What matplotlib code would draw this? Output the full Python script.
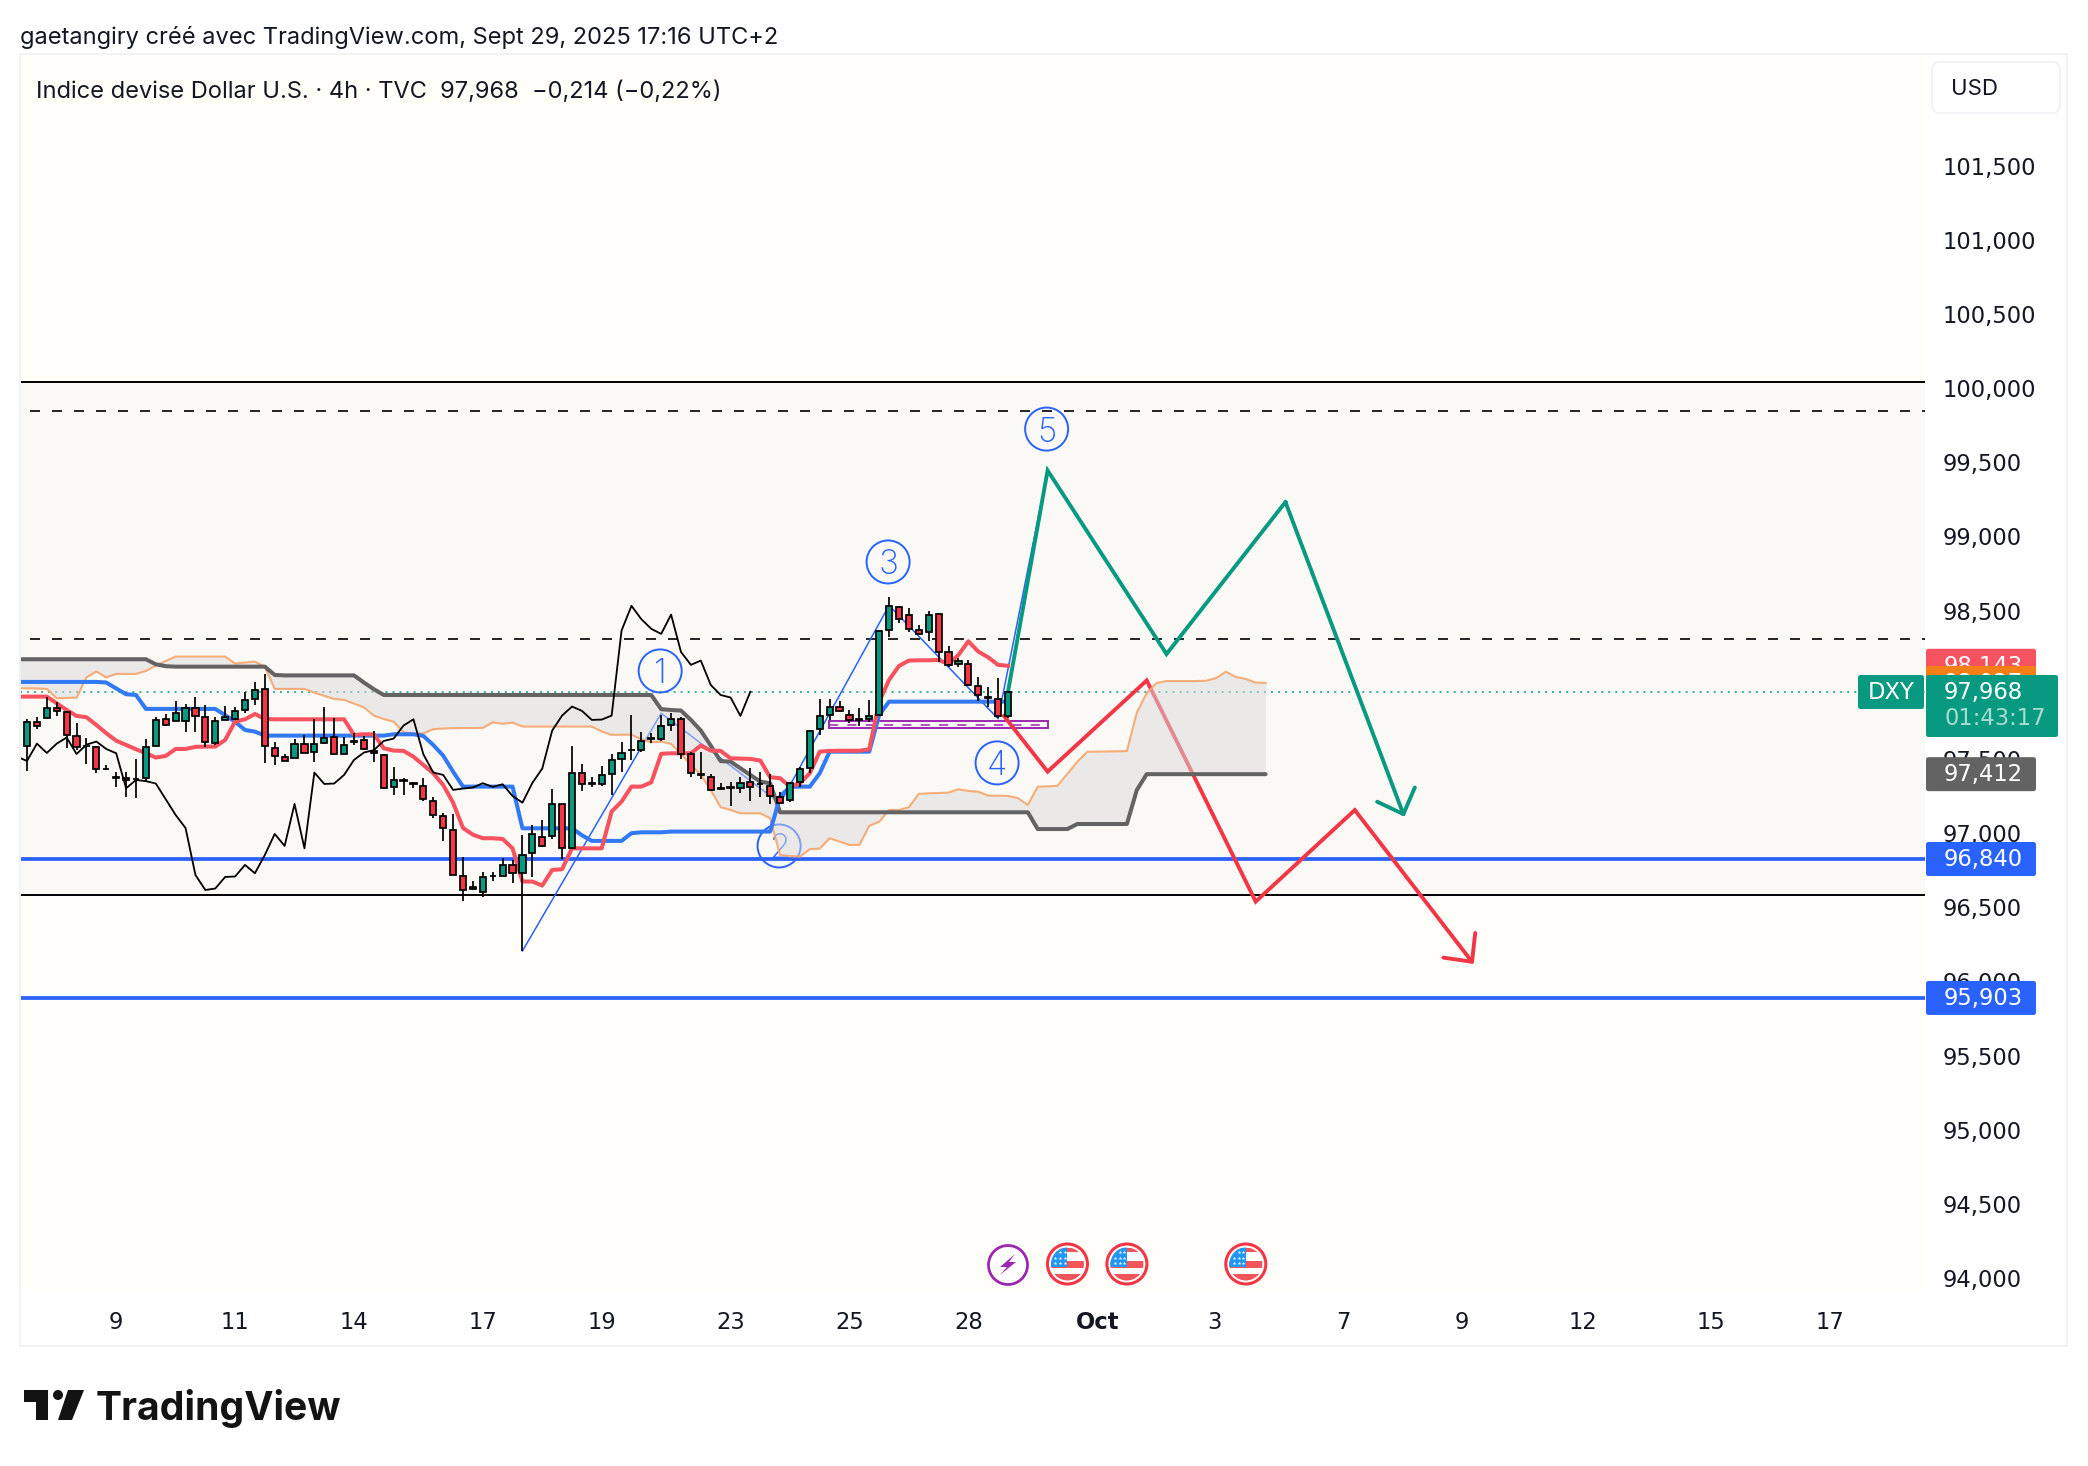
import numpy as np
import matplotlib
matplotlib.use("Agg")
import matplotlib.pyplot as plt
from matplotlib.patches import Circle, Rectangle, Polygon, FancyBboxPatch
from matplotlib.transforms import ScaledTranslation

plt.rcParams['font.family'] = ['Inter', 'DejaVu Sans']

# candles, 4h bars: open, high, low, close
opens = [97.602, 97.762, 97.791, 97.861, 97.834, 97.672, 97.605, 97.598, 97.450, 97.391,
         97.385, 97.382, 97.384, 97.602, 97.784, 97.769, 97.769, 97.861, 97.800, 97.625,
         97.778, 97.782, 97.845, 97.919, 97.987, 97.591, 97.530, 97.524, 97.616, 97.560,
         97.620, 97.665, 97.548, 97.636, 97.643, 97.569, 97.544, 97.328, 97.375, 97.353,
         97.333, 97.231, 97.130, 97.036, 96.726, 96.650, 96.616, 96.726, 96.726, 96.800,
         96.744, 96.879, 96.991, 96.996, 97.211, 96.912, 97.423, 97.354, 97.346, 97.414,
         97.513, 97.578, 97.574, 97.656, 97.647, 97.746, 97.787, 97.546, 97.412, 97.396,
         97.319, 97.326, 97.317, 97.357, 97.348, 97.335, 97.261, 97.236, 97.360, 97.452,
         97.717, 97.812, 97.868, 97.814, 97.784, 97.782, 97.812, 98.385, 98.542, 98.488,
         98.385, 98.369, 98.495, 98.239, 98.155, 98.155, 98.007, 97.933, 97.922, 97.802]
highs = [97.782, 97.796, 97.935, 97.897, 97.841, 97.755, 97.654, 97.602, 97.474, 97.425,
         97.425, 97.512, 97.647, 97.800, 97.818, 97.904, 97.883, 97.931, 97.877, 97.800,
         97.872, 97.863, 97.967, 98.032, 98.088, 97.627, 97.548, 97.647, 97.677, 97.782,
         97.863, 97.789, 97.661, 97.688, 97.670, 97.704, 97.548, 97.459, 97.384, 97.357,
         97.384, 97.256, 97.148, 97.142, 96.852, 96.694, 96.750, 96.755, 96.845, 96.834,
         97.002, 97.070, 97.103, 97.310, 97.211, 97.602, 97.479, 97.396, 97.468, 97.549,
         97.627, 97.812, 97.695, 97.688, 97.812, 97.823, 97.796, 97.564, 97.562, 97.411,
         97.351, 97.362, 97.396, 97.452, 97.425, 97.414, 97.292, 97.362, 97.463, 97.711,
         97.917, 97.917, 97.904, 97.845, 97.857, 97.913, 98.385, 98.605, 98.547, 98.531,
         98.419, 98.511, 98.497, 98.277, 98.194, 98.182, 98.066, 97.998, 98.059, 97.968]
lows = [97.436, 97.715, 97.791, 97.807, 97.587, 97.575, 97.479, 97.423, 97.441, 97.328,
        97.261, 97.254, 97.362, 97.602, 97.737, 97.769, 97.699, 97.699, 97.598, 97.609,
        97.778, 97.778, 97.823, 97.879, 97.490, 97.476, 97.499, 97.524, 97.553, 97.497,
        97.614, 97.548, 97.548, 97.611, 97.575, 97.497, 97.310, 97.272, 97.272, 97.321,
        97.234, 97.115, 96.964, 96.732, 96.559, 96.631, 96.586, 96.694, 96.726, 96.676,
        96.220, 96.721, 96.924, 96.973, 96.843, 96.912, 97.301, 97.328, 97.333, 97.272,
        97.429, 97.508, 97.564, 97.625, 97.638, 97.706, 97.513, 97.396, 97.382, 97.301,
        97.310, 97.200, 97.288, 97.234, 97.261, 97.209, 97.216, 97.227, 97.328, 97.418,
        97.677, 97.778, 97.832, 97.755, 97.740, 97.767, 97.812, 98.340, 98.434, 98.374,
        98.351, 98.313, 98.171, 98.138, 98.138, 98.007, 97.908, 97.868, 97.789, 97.789]
closes = [97.766, 97.740, 97.861, 97.841, 97.677, 97.593, 97.600, 97.445, 97.447, 97.388,
          97.372, 97.378, 97.598, 97.778, 97.744, 97.827, 97.861, 97.805, 97.627, 97.773,
          97.800, 97.841, 97.915, 97.980, 97.602, 97.535, 97.501, 97.618, 97.555, 97.618,
          97.659, 97.548, 97.611, 97.632, 97.582, 97.553, 97.317, 97.373, 97.365, 97.349,
          97.243, 97.137, 97.049, 96.732, 96.631, 96.641, 96.719, 96.722, 96.800, 96.744,
          96.867, 97.009, 96.928, 97.211, 96.912, 97.423, 97.346, 97.349, 97.407, 97.508,
          97.558, 97.574, 97.636, 97.652, 97.740, 97.782, 97.546, 97.423, 97.407, 97.306,
          97.315, 97.322, 97.351, 97.326, 97.344, 97.265, 97.220, 97.353, 97.450, 97.706,
          97.807, 97.868, 97.839, 97.778, 97.780, 97.807, 98.380, 98.547, 98.457, 98.392,
          98.358, 98.488, 98.236, 98.149, 98.178, 98.014, 97.946, 97.929, 97.805, 97.968]
close_before = 97.530

# ichimoku, first value sits one bar left of the first candle
tenkan = [97.935, 97.935, 97.935, 97.935, 97.890, 97.845, 97.805, 97.796, 97.744, 97.688,
          97.638, 97.609, 97.580, 97.553, 97.524, 97.535, 97.582, 97.582, 97.596, 97.598,
          97.598, 97.643, 97.766, 97.782, 97.818, 97.784, 97.782, 97.782, 97.782, 97.782,
          97.782, 97.782, 97.782, 97.782, 97.677, 97.681, 97.681, 97.587, 97.571, 97.569,
          97.530, 97.474, 97.418, 97.339, 97.220, 97.049, 97.004, 96.980, 96.980, 96.975,
          96.912, 96.688, 96.688, 96.661, 96.766, 96.771, 96.912, 96.912, 96.912, 96.912,
          97.160, 97.227, 97.328, 97.328, 97.357, 97.549, 97.553, 97.553, 97.553, 97.605,
          97.571, 97.569, 97.519, 97.517, 97.515, 97.504, 97.391, 97.385, 97.328, 97.351,
          97.418, 97.564, 97.569, 97.570, 97.570, 97.570, 97.580, 97.901, 98.048, 98.142,
          98.178, 98.180, 98.180, 98.182, 98.155, 98.216, 98.308, 98.239, 98.200, 98.149,
          98.143]
kijun = ([98.034] * 9 + [98.030, 97.990, 97.951, 97.946] + [97.852] * 8 + [97.810, 97.766, 97.710, 97.699]
         + [97.672] * 13 + [97.681] * 3 + [97.670, 97.609, 97.537, 97.429] + [97.328] * 6
         + [97.047] * 6 + [97.000] + [96.962] * 4 + [97.014, 97.020, 97.020, 97.020]
         + [97.025] * 11 + [97.261] + [97.328] * 3 + [97.418] + [97.564] * 5 + [97.812] + [97.901] * 13)
senkou_a = [97.991, 97.991, 97.990, 97.987, 97.924, 97.926, 97.928, 98.065, 98.104, 98.065,
            98.088, 98.088, 98.088, 98.108, 98.144, 98.175, 98.205, 98.205, 98.205, 98.205,
            98.205, 98.205, 98.158, 98.165, 98.171, 98.137, 97.987, 97.987, 97.987, 97.987,
            97.962, 97.940, 97.919, 97.913, 97.888, 97.863, 97.807, 97.784, 97.766, 97.695,
            97.686, 97.688, 97.715, 97.720, 97.722, 97.723, 97.723, 97.724, 97.762, 97.751,
            97.760, 97.733, 97.733, 97.733, 97.733, 97.733, 97.733, 97.733, 97.733, 97.700,
            97.677, 97.678, 97.679, 97.647, 97.627, 97.632, 97.616, 97.549, 97.474, 97.407,
            97.306, 97.189, 97.171, 97.148, 97.148, 97.148, 97.115, 96.867, 96.860, 96.856,
            96.906, 96.910, 96.980, 96.957, 96.935, 96.935, 97.063, 97.092, 97.171, 97.171,
            97.189, 97.279, 97.283, 97.285, 97.288, 97.310, 97.299, 97.294, 97.267, 97.267,
            97.265, 97.251, 97.204, 97.327, 97.330, 97.334, 97.415, 97.496, 97.563, 97.564,
            97.565, 97.566, 97.568, 97.827, 97.958, 98.027, 98.040, 98.040, 98.040, 98.040,
            98.042, 98.060, 98.103, 98.067, 98.054, 98.029, 98.027]
senkou_b = ([98.187] * 14 + [98.153, 98.140] + [98.137] * 10 + [98.081] + [98.078] * 8 + [98.030, 97.985]
            + [97.946] * 28 + [97.850, 97.845, 97.841, 97.778, 97.706, 97.605, 97.500, 97.497, 97.452,
                               97.407, 97.362, 97.351]
            + [97.155] * 26 + [97.042] * 4 + [97.076] * 6 + [97.305] + [97.412] * 13)

# drawings
zone_top, zone_bottom = 100.056, 96.597
dash_levels = [99.858, 98.323]
blue_levels = [96.840, 95.903]
wave_x = [50, 64, 76, 87, 98, 103]
wave_y = [96.220, 97.823, 97.216, 98.550, 97.786, 99.460]
wave_labels = ["1", "2", "3", "4", "5"]
wave_label_x = [63.9, 75.9, 86.9, 97.9, 102.9]
wave_label_y = [98.108, 96.928, 98.843, 97.488, 99.739]
green_x = [99, 103, 115, 127, 139]
green_y = [97.968, 99.460, 98.222, 99.247, 97.125]
red_x = [98.6, 103, 113, 124, 134, 146]
red_y = [97.804, 97.429, 98.044, 96.553, 97.170, 96.132]
box_x = [80.9, 103]
box_y = [97.720, 97.772]
last_price = 97.968

price_ticks = [101.5, 101, 100.5, 100, 99.5, 99, 98.5, 98, 97.5, 97, 96.5, 96, 95.5, 95, 94.5, 94]
time_ticks = [9, 21, 33, 46, 58, 71, 83, 95, 108, 119.8, 132.8, 144.8, 157, 169.9, 181.9]
time_labels = ["9", "11", "14", "17", "19", "23", "25", "28", "Oct", "3", "7", "9", "12", "15", "17"]
event_bars = [105, 111, 123]
bolt_bar = 99

# colours
C_BG = "#fffef8"
C_ZONE = "#faf9f5"
C_RED = "#f23645"
C_GREEN = "#089981"
C_BLUE = "#2962ff"
C_GREY = "#636363"
C_TEXT = "#131722"
NUM_FONT = "DejaVu Sans"
NUM_SIZE = 16.3

# scale of the picture (pixels)
X0, DX = 27.0, 9.909
Y0, DY = 859.0, 148.3
L, R, T, B = 20, 1925, 54, 1289


def px_x(i):
    return X0 + DX * i


def px_y(v):
    return Y0 - (v - 96.84) * DY


fig = plt.figure(figsize=(20.88, 14.66), dpi=100, facecolor="white")
ax = fig.add_axes([L / 2088, 1 - B / 1466, (R - L) / 2088, (B - T) / 1466], facecolor=C_BG)
ax.set_xlim((L - X0) / DX, (R - X0) / DX)
ax.set_ylim(96.84 - (B - Y0) / DY, 96.84 + (Y0 - T) / DY)
for s in ax.spines.values():
    s.set_visible(False)

# zone and levels
ax.axhspan(zone_bottom, zone_top, color=C_ZONE, lw=0, zorder=1)
ax.axhline(zone_top, color="black", lw=1.4, zorder=2)
ax.axhline(zone_bottom, color="black", lw=1.4, zorder=2)
for lev in dash_levels:
    ax.plot([0.3, 192], [lev, lev], color="black", lw=1.2, ls=(0, (6, 7.2)), zorder=2)
for lev in blue_levels:
    ax.axhline(lev, color=C_BLUE, lw=2.7, zorder=2)
ax.axhline(last_price, color=C_GREEN, lw=1.1, ls=(0, (1.3, 3.3)), zorder=2)

# drawings go under the cloud
ax.plot(wave_x, wave_y, color=C_BLUE, lw=1.1, zorder=2.2)
ax.add_patch(Rectangle((box_x[0], box_y[0]), box_x[1] - box_x[0], box_y[1] - box_y[0], fill=False,
                       ec="#9c27b0", lw=1.4, zorder=2.2))
ax.plot(box_x, [np.mean(box_y)] * 2, color="#9c27b0", lw=1.1, ls=(0, (6, 6)), zorder=2.2)
ax.plot(green_x[:-1], green_y[:-1], color=C_GREEN, lw=2.8, zorder=2.3, solid_joinstyle="miter")
ax.plot(red_x[:-1], red_y[:-1], color=C_RED, lw=2.8, zorder=2.3, solid_joinstyle="miter")
for xs, ys, col in [(green_x, green_y, C_GREEN), (red_x, red_y, C_RED)]:
    ax.annotate("", xy=(xs[-1], ys[-1]), xytext=(xs[-2], ys[-2]), zorder=2.3,
                arrowprops=dict(arrowstyle="->,head_length=15,head_width=14.5", mutation_scale=1,
                                color=col, lw=2.8, shrinkA=0, shrinkB=0))
ax.scatter(wave_label_x, wave_label_y, s=960, facecolor="none", edgecolor=C_BLUE, lw=1.4, zorder=2.4)
for lx, ly, lab in zip(wave_label_x, wave_label_y, wave_labels):
    ax.text(lx, ly, lab, color=C_BLUE, fontsize=24, ha="center", va="center_baseline",
            fontweight="light", zorder=2.4)

# ichimoku
x_a = np.arange(len(senkou_a)) - 1
x_t = np.arange(len(tenkan)) - 1
x_k = np.arange(len(kijun)) - 1
x_b = np.arange(len(senkou_b)) - 1
n_cloud = min(len(senkou_a), len(senkou_b))
ax.fill_between(x_a[:n_cloud], senkou_a[:n_cloud], senkou_b[:n_cloud], color="#dbdbdb", alpha=0.5, lw=0, zorder=3)
ax.plot(x_a, senkou_a, color="#f7a56b", lw=1.5, alpha=0.9, zorder=4)
ax.plot(x_b, senkou_b, color=C_GREY, lw=2.9, zorder=4, solid_capstyle="round")
ax.plot(x_k, kijun, color="#3179f5", lw=2.9, zorder=4)
ax.plot(x_t, tenkan, color="#f7525f", lw=2.9, zorder=4)

# candles
idx = np.arange(len(opens))
o, h, l, c = map(np.array, (opens, highs, lows, closes))
colors = [C_GREEN if cc >= oo else C_RED for oo, cc in zip(o, c)]
ax.vlines(idx, l, h, color="black", lw=1.25, zorder=5)
ax.bar(idx, np.abs(c - o), bottom=np.minimum(o, c), width=0.62, color=colors, edgecolor="black", lw=1.25, zorder=5.1)

# lagging line
chikou = [close_before] + closes[26:]
ax.plot(np.arange(len(chikou)) - 1, chikou, color="black", lw=1.3, zorder=6)

# axes
ax.yaxis.tick_right()
ax.set_yticks(price_ticks)
ax.set_yticklabels([f"{v:.3f}".replace(".", ",") for v in price_ticks], fontsize=NUM_SIZE, color=C_TEXT, family=NUM_FONT)
ax.set_xticks(time_ticks)
ax.set_xticklabels(time_labels, fontsize=NUM_SIZE, color=C_TEXT, family=NUM_FONT)
ax.get_xticklabels()[8].set_fontweight("bold")
ax.tick_params(axis="both", length=0)
ax.tick_params(axis="y", pad=13)
ax.tick_params(axis="x", pad=16)
up = ScaledTranslation(0, 2.2 / 100, fig.dpi_scale_trans)
for t in ax.get_yticklabels():
    t.set_transform(t.get_transform() + up)

# overlay in pixels for the frame, tags, icons, logo
ov = fig.add_axes([0, 0, 1, 1], facecolor="none")
ov.set_xlim(0, 2088)
ov.set_ylim(1466, 0)
ov.axis("off")
ov.add_patch(Rectangle((19.5, 53.5), 2047.5, 1292, fill=False, ec="#f1f2f4", lw=1.4))

ov.text(20, 37.5, "gaetangiry créé avec TradingView.com, Sept 29, 2025 17:16 UTC+2", fontsize=17, color=C_TEXT,
        va="center", ha="left")
ov.text(36, 91.5, "Indice devise Dollar U.S. · 4h · TVC  97,968  −0,214 (−0,22%)", fontsize=17, color=C_TEXT,
        va="center", ha="left")

ov.add_patch(FancyBboxPatch((1932, 62), 128, 51, boxstyle="round,pad=0,rounding_size=8", fc="white", ec="#f0f1f3", lw=1.2))
ov.text(1951, 87, "USD", fontsize=16, color=C_TEXT, va="center_baseline", ha="left")

z_tag = 10


def tag(y, h, x0, x1):
    # later tags cover earlier ones, text included
    global z_tag
    z_tag += 2
    ov.add_patch(FancyBboxPatch((x0, y), x1 - x0, h, boxstyle="round,pad=0,rounding_size=2.5", fc=tag.col, ec="none",
                                zorder=z_tag))
    return z_tag + 1


def price_tag(v, txt, col):
    tag.col = col
    y = px_y(v)
    z = tag(y - 17, 34, 1926, 2036)
    ov.text(1944, y - 2, txt, fontsize=NUM_SIZE, color="white", va="center_baseline", ha="left", family=NUM_FONT, zorder=z)


price_tag(tenkan[-1], "98,143", "#f7525f")
price_tag(senkou_a[-1], "98,027", "#f57f17")
tag.col = C_GREEN
z = tag(675, 62, 1926, 2058)
ov.text(1944, px_y(last_price) - 2, "97,968", fontsize=NUM_SIZE, color="white", va="center_baseline", ha="left", family=NUM_FONT, zorder=z)
ov.text(1944, 716, "01:43:17", fontsize=NUM_SIZE, color="#a9dcd1", va="center_baseline", ha="left", family=NUM_FONT, zorder=z)
z = tag(675, 34, 1858, 1924)
ov.text(1891, px_y(last_price) - 2, "DXY", fontsize=NUM_SIZE, color="white", va="center_baseline", ha="center", family=NUM_FONT, zorder=z)
price_tag(senkou_b[-1], "97,412", C_GREY)
price_tag(blue_levels[0], "96,840", C_BLUE)
price_tag(blue_levels[1], "95,903", C_BLUE)


def flag(cx, cy):
    clip = Circle((cx, cy), 16.5, transform=ov.transData)
    ov.add_patch(Circle((cx, cy), 20, fc="white", ec=C_RED, lw=2.2))
    stripes = [(-16.5, -12), (-3.5, 3.5), (10, 16.5)]
    for y0, y1 in stripes:
        r = Rectangle((cx - 17, cy + y0), 34, y1 - y0, fc="#f0555a", ec="none")
        ov.add_patch(r)
        r.set_clip_path(clip)
    r = Rectangle((cx - 17, cy - 17), 17, 20, fc="#2196f3", ec="none")
    ov.add_patch(r)
    r.set_clip_path(clip)
    sx = [cx - 7, cx - 2.5, cx - 12, cx - 7, cx - 2.5, cx - 12, cx - 7, cx - 2.5]
    sy = [cy - 12, cy - 12, cy - 6, cy - 6, cy - 6, cy - 1, cy - 1, cy - 1]
    ov.scatter(sx, sy, s=7, color="white", marker="*", lw=0, zorder=3)


icon_y = 1264
for b in event_bars:
    flag(px_x(b), icon_y)
bx = px_x(bolt_bar)
ov.add_patch(Circle((bx, icon_y + 1), 19.5, fc="white", ec="#9c27b0", lw=2))
ov.add_patch(Polygon([[bx + 7, icon_y - 10], [bx - 8, icon_y + 3], [bx - 1, icon_y + 3], [bx - 8, icon_y + 11],
                      [bx + 8, icon_y - 2], [bx + 1, icon_y - 2]], fc="#9c27b0", ec="none"))

# TradingView logo
ov.add_patch(Polygon([[24, 1390], [48, 1390], [48, 1420], [36, 1420], [36, 1402], [24, 1402]], fc="#131313", ec="none"))
ov.add_patch(Circle((58, 1395), 5, fc="#131313", ec="none"))
ov.add_patch(Polygon([[68, 1390], [84, 1390], [72, 1420], [58, 1420]], fc="#131313", ec="none"))
ov.text(96, 1420, "TradingView", fontsize=28.2, fontweight="bold", color="#131313", va="baseline", ha="left")

fig.savefig("out.png", dpi=100, facecolor="white")
